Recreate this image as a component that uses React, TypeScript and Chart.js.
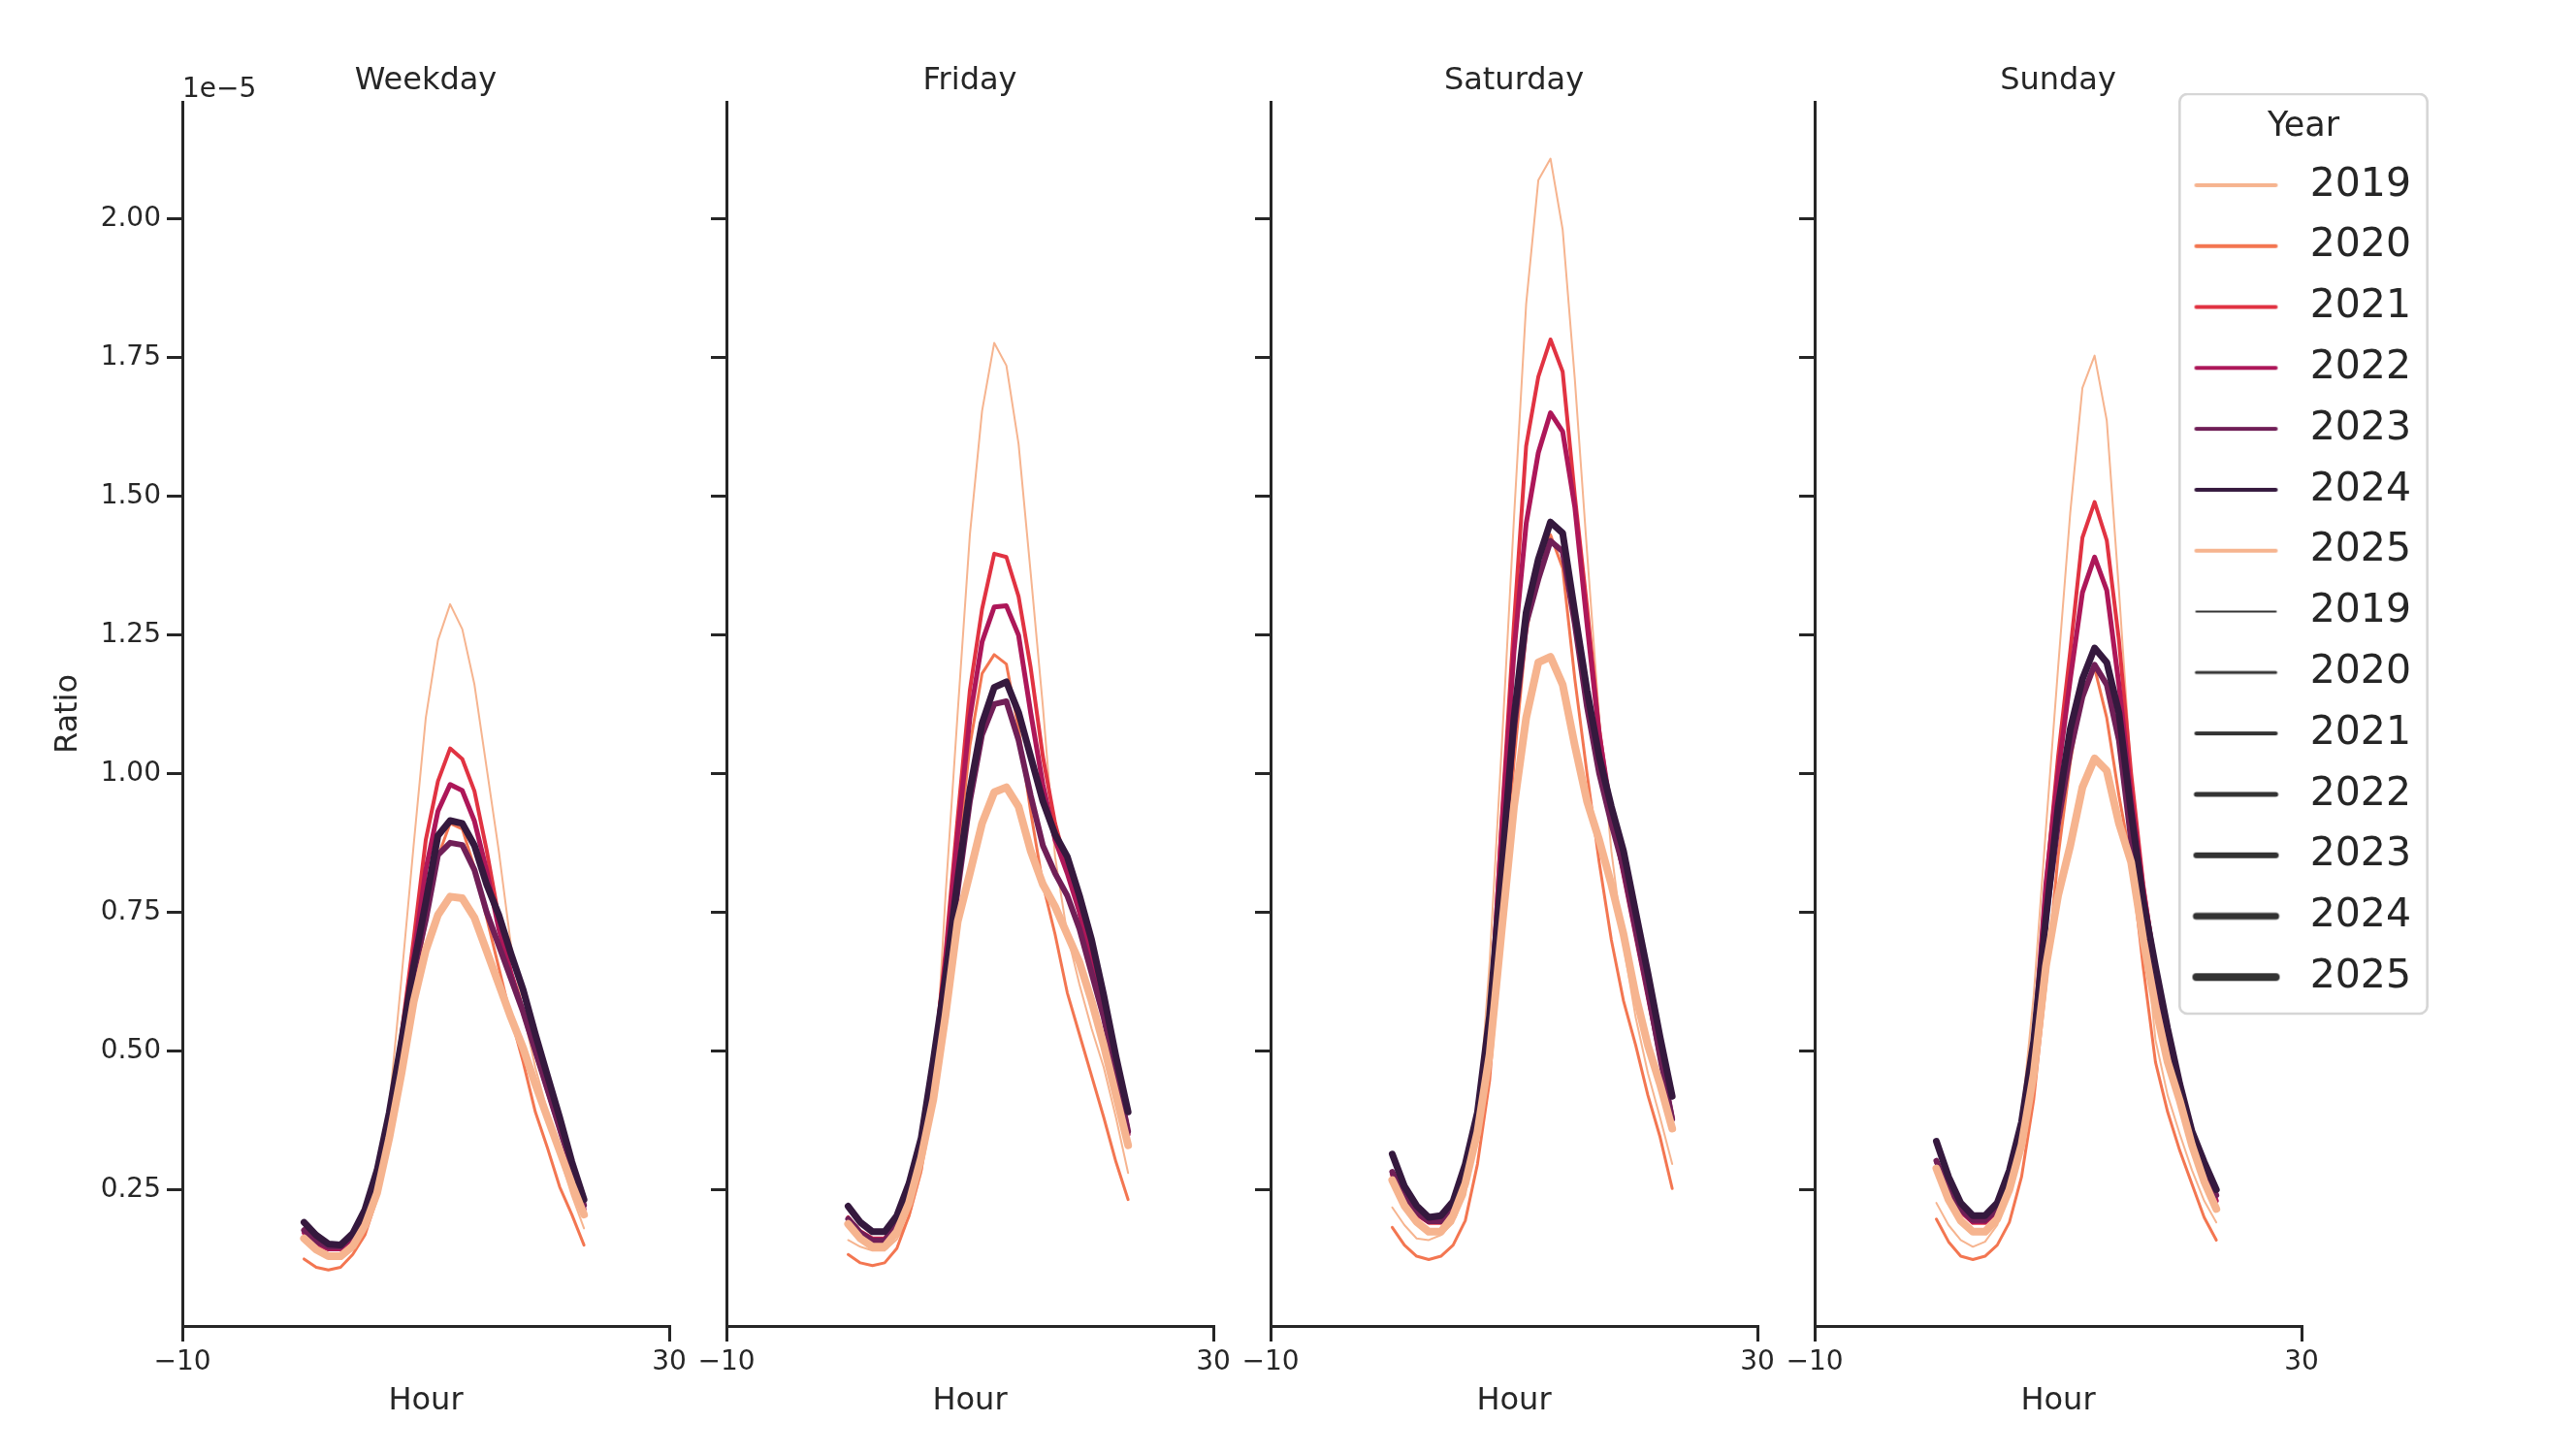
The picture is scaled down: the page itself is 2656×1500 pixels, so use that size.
import React, { useEffect, useRef } from "react";
import { Chart, registerables } from "chart.js";

Chart.register(...registerables);

const FONT = "'DejaVu Sans', 'Liberation Sans', sans-serif";
const INK = "#262626";

// ---------------- data (values in units of 1e-5) ----------------
const HOURS = [0, 1, 2, 3, 4, 5, 6, 7, 8, 9, 10, 11, 12, 13, 14, 15, 16, 17, 18, 19, 20, 21, 22, 23];
const YEARS = ["2019", "2020", "2021", "2022", "2023", "2024", "2025"];
const PANELS = ["Weekday", "Friday", "Saturday", "Sunday"];
const Y_TICKS = [0.25, 0.5, 0.75, 1.0, 1.25, 1.5, 1.75, 2.0];
const X_TICKS = [-10, 30];
const HUE_COLORS = ["#f6b48f", "#f37651", "#e13342", "#ad1759", "#701f57", "#35193e", "#f6b48f"];
const SIZE_WIDTHS = [2, 3, 4, 5, 6, 7, 8];

const weekday2019 = [0.160, 0.140, 0.130, 0.130, 0.150, 0.190, 0.270, 0.400, 0.630, 0.870, 1.100, 1.240, 1.305, 1.260, 1.160, 1.010, 0.860, 0.690, 0.570, 0.470, 0.390, 0.310, 0.240, 0.180];
const weekday2020 = [0.125, 0.110, 0.105, 0.110, 0.133, 0.168, 0.235, 0.345, 0.480, 0.610, 0.730, 0.850, 0.910, 0.900, 0.830, 0.740, 0.650, 0.560, 0.480, 0.390, 0.325, 0.255, 0.205, 0.150];
const weekday2021 = [0.175, 0.155, 0.145, 0.145, 0.165, 0.205, 0.280, 0.390, 0.530, 0.700, 0.880, 0.986, 1.045, 1.026, 0.968, 0.862, 0.740, 0.640, 0.570, 0.500, 0.430, 0.360, 0.290, 0.220];
const weekday2022 = [0.172, 0.152, 0.143, 0.143, 0.163, 0.203, 0.278, 0.385, 0.520, 0.670, 0.826, 0.932, 0.980, 0.969, 0.914, 0.825, 0.720, 0.640, 0.570, 0.500, 0.430, 0.360, 0.290, 0.215];
const weekday2023 = [0.177, 0.157, 0.147, 0.147, 0.168, 0.210, 0.283, 0.385, 0.510, 0.640, 0.736, 0.853, 0.875, 0.871, 0.826, 0.750, 0.690, 0.630, 0.570, 0.500, 0.430, 0.360, 0.290, 0.222];
const weekday2024 = [0.191, 0.168, 0.152, 0.150, 0.171, 0.214, 0.285, 0.389, 0.517, 0.652, 0.768, 0.888, 0.915, 0.910, 0.870, 0.800, 0.745, 0.675, 0.610, 0.530, 0.455, 0.380, 0.300, 0.232];
const weekday2025 = [0.162, 0.142, 0.130, 0.130, 0.148, 0.185, 0.244, 0.343, 0.459, 0.588, 0.681, 0.745, 0.778, 0.775, 0.740, 0.680, 0.620, 0.560, 0.505, 0.440, 0.380, 0.320, 0.260, 0.205];

const friday2019 = [0.159, 0.147, 0.140, 0.140, 0.160, 0.200, 0.280, 0.400, 0.780, 1.110, 1.430, 1.653, 1.776, 1.735, 1.594, 1.360, 1.120, 0.850, 0.710, 0.620, 0.540, 0.470, 0.380, 0.280];
const friday2020 = [0.133, 0.118, 0.113, 0.118, 0.144, 0.203, 0.285, 0.430, 0.620, 0.850, 1.050, 1.180, 1.214, 1.197, 1.080, 0.930, 0.800, 0.710, 0.605, 0.530, 0.455, 0.380, 0.300, 0.232];
const friday2021 = [0.200, 0.175, 0.162, 0.162, 0.190, 0.245, 0.330, 0.470, 0.680, 0.920, 1.150, 1.296, 1.396, 1.390, 1.319, 1.190, 1.030, 0.910, 0.830, 0.750, 0.670, 0.580, 0.470, 0.360];
const friday2022 = [0.198, 0.173, 0.160, 0.160, 0.188, 0.243, 0.328, 0.465, 0.660, 0.890, 1.100, 1.237, 1.300, 1.302, 1.249, 1.109, 0.980, 0.880, 0.820, 0.750, 0.660, 0.570, 0.460, 0.350];
const friday2023 = [0.197, 0.172, 0.158, 0.158, 0.187, 0.243, 0.330, 0.460, 0.620, 0.790, 0.950, 1.070, 1.125, 1.130, 1.060, 0.960, 0.870, 0.820, 0.780, 0.720, 0.640, 0.560, 0.460, 0.355];
const friday2024 = [0.220, 0.191, 0.174, 0.174, 0.203, 0.261, 0.343, 0.483, 0.634, 0.809, 0.970, 1.090, 1.155, 1.165, 1.110, 1.030, 0.950, 0.890, 0.850, 0.780, 0.700, 0.600, 0.490, 0.390];
const friday2025 = [0.188, 0.162, 0.147, 0.147, 0.174, 0.226, 0.308, 0.413, 0.564, 0.733, 0.820, 0.910, 0.966, 0.975, 0.940, 0.860, 0.800, 0.760, 0.710, 0.660, 0.590, 0.510, 0.420, 0.330];

const saturday2019 = [0.218, 0.186, 0.162, 0.159, 0.168, 0.190, 0.240, 0.360, 0.660, 1.050, 1.460, 1.846, 2.069, 2.108, 1.980, 1.710, 1.400, 1.100, 0.860, 0.690, 0.560, 0.460, 0.380, 0.296];
const saturday2020 = [0.182, 0.150, 0.130, 0.124, 0.130, 0.150, 0.194, 0.296, 0.447, 0.720, 1.020, 1.250, 1.380, 1.430, 1.370, 1.170, 1.000, 0.840, 0.700, 0.590, 0.510, 0.420, 0.345, 0.252];
const saturday2021 = [0.275, 0.235, 0.205, 0.190, 0.190, 0.215, 0.280, 0.380, 0.550, 0.920, 1.270, 1.590, 1.715, 1.782, 1.724, 1.500, 1.300, 1.080, 0.920, 0.820, 0.710, 0.600, 0.490, 0.380];
const saturday2022 = [0.278, 0.237, 0.207, 0.192, 0.192, 0.217, 0.283, 0.380, 0.545, 0.900, 1.220, 1.450, 1.578, 1.650, 1.616, 1.480, 1.270, 1.070, 0.930, 0.820, 0.710, 0.600, 0.490, 0.380];
const saturday2023 = [0.282, 0.240, 0.210, 0.193, 0.193, 0.220, 0.285, 0.380, 0.550, 0.830, 1.080, 1.270, 1.350, 1.419, 1.400, 1.270, 1.120, 1.000, 0.910, 0.830, 0.720, 0.610, 0.490, 0.377];
const saturday2024 = [0.314, 0.256, 0.221, 0.200, 0.203, 0.229, 0.296, 0.389, 0.564, 0.830, 1.100, 1.290, 1.386, 1.453, 1.433, 1.290, 1.150, 1.030, 0.940, 0.860, 0.750, 0.640, 0.525, 0.418];
const saturday2025 = [0.267, 0.221, 0.192, 0.174, 0.174, 0.203, 0.261, 0.354, 0.494, 0.720, 0.940, 1.100, 1.200, 1.210, 1.160, 1.050, 0.950, 0.880, 0.800, 0.710, 0.600, 0.510, 0.440, 0.360];

const sunday2019 = [0.226, 0.186, 0.159, 0.147, 0.156, 0.186, 0.250, 0.380, 0.600, 0.900, 1.190, 1.470, 1.695, 1.753, 1.636, 1.330, 1.000, 0.740, 0.520, 0.420, 0.350, 0.285, 0.230, 0.191];
const sunday2020 = [0.197, 0.156, 0.130, 0.124, 0.130, 0.150, 0.191, 0.273, 0.413, 0.620, 0.850, 1.020, 1.150, 1.190, 1.100, 0.960, 0.840, 0.650, 0.480, 0.390, 0.320, 0.260, 0.200, 0.159];
const sunday2021 = [0.300, 0.250, 0.210, 0.190, 0.190, 0.210, 0.270, 0.360, 0.510, 0.800, 1.030, 1.220, 1.425, 1.489, 1.420, 1.240, 1.000, 0.800, 0.650, 0.530, 0.430, 0.350, 0.290, 0.230];
const sunday2022 = [0.300, 0.250, 0.212, 0.192, 0.192, 0.212, 0.272, 0.362, 0.512, 0.800, 1.000, 1.170, 1.326, 1.390, 1.330, 1.160, 0.960, 0.790, 0.650, 0.530, 0.430, 0.350, 0.290, 0.230];
const sunday2023 = [0.302, 0.250, 0.215, 0.195, 0.195, 0.215, 0.275, 0.365, 0.510, 0.740, 0.910, 1.040, 1.138, 1.196, 1.160, 1.060, 0.880, 0.750, 0.630, 0.530, 0.430, 0.350, 0.290, 0.240];
const sunday2024 = [0.337, 0.273, 0.226, 0.203, 0.203, 0.226, 0.285, 0.372, 0.518, 0.739, 0.940, 1.080, 1.170, 1.226, 1.200, 1.109, 0.930, 0.770, 0.652, 0.540, 0.440, 0.355, 0.300, 0.250];
const sunday2025 = [0.288, 0.232, 0.194, 0.174, 0.174, 0.197, 0.250, 0.331, 0.459, 0.652, 0.780, 0.870, 0.975, 1.027, 1.005, 0.910, 0.840, 0.700, 0.580, 0.480, 0.410, 0.330, 0.265, 0.215];

const PANEL_SERIES = [
  [weekday2019, weekday2020, weekday2021, weekday2022, weekday2023, weekday2024, weekday2025],
  [friday2019, friday2020, friday2021, friday2022, friday2023, friday2024, friday2025],
  [saturday2019, saturday2020, saturday2021, saturday2022, saturday2023, saturday2024, saturday2025],
  [sunday2019, sunday2020, sunday2021, sunday2022, sunday2023, sunday2024, sunday2025],
];

// ---------------- layout ----------------
const PANEL_LEFT = [0, 561, 1122, 1683];
const PANEL_W = 738;
const Y_AXIS_W = 188;
const PLOT_W = 502;
const Y_MIN = 0.0042;
const Y_MAX = 2.2103;

const offsetTextPlugin = {
  id: "offsetText",
  afterDraw(chart: any) {
    const { ctx, chartArea } = chart;
    ctx.save();
    ctx.font = `28px ${FONT}`;
    ctx.fillStyle = INK;
    ctx.textAlign = "left";
    ctx.textBaseline = "alphabetic";
    ctx.fillText("1e\u22125", chartArea.left, 100);
    ctx.restore();
  },
};

function axisCommon() {
  return {
    grid: {
      display: true,
      drawOnChartArea: false,
      drawTicks: true,
      tickLength: 16,
      tickWidth: 3,
      tickColor: INK,
      color: INK,
      lineWidth: 3,
    },
    border: { display: true, color: INK, width: 3 },
  };
}

function Panel({ idx }: { idx: number }) {
  const ref = useRef<HTMLCanvasElement | null>(null);
  useEffect(() => {
    if (!ref.current) return;
    const series = PANEL_SERIES[idx];
    const first = idx === 0;
    const chart = new Chart(ref.current, {
      type: "line",
      data: {
        datasets: YEARS.map((yr, i) => ({
          label: yr,
          data: HOURS.map((h, k) => ({ x: h, y: series[i][k] })),
          borderColor: HUE_COLORS[i],
          backgroundColor: HUE_COLORS[i],
          borderWidth: SIZE_WIDTHS[i],
          pointRadius: 0,
          pointHoverRadius: 0,
          tension: 0,
          fill: false,
          borderJoinStyle: "round",
          borderCapStyle: "round",
          order: YEARS.length - i,
        })),
      },
      options: {
        responsive: false,
        animation: false,
        devicePixelRatio: 1,
        events: [],
        layout: { padding: { left: 0, right: PANEL_W - Y_AXIS_W - PLOT_W, top: 0, bottom: 33 } },
        plugins: {
          legend: { display: false },
          tooltip: { enabled: false },
          title: {
            display: true,
            text: PANELS[idx],
            fullSize: false,
            color: INK,
            font: { family: FONT, size: 32, weight: "normal", lineHeight: 1.2 },
            padding: { top: 64.8, bottom: 1.8 },
          },
        },
        scales: {
          x: {
            type: "linear",
            min: -10,
            max: 30,
            afterBuildTicks: (s: any) => {
              s.ticks = X_TICKS.map((v) => ({ value: v }));
            },
            afterFit: (s: any) => {
              s.height = 100;
            },
            ticks: {
              color: INK,
              font: { family: FONT, size: 28, lineHeight: 1.2 },
              padding: 5.2,
              maxRotation: 0,
              autoSkip: false,
              callback: (v: any) => (Number(v) < 0 ? "\u2212" + Math.abs(Number(v)) : String(v)),
            },
            title: {
              display: true,
              text: "Hour",
              color: INK,
              font: { family: FONT, size: 32, lineHeight: 1.2 },
              padding: { top: 0, bottom: 3.3 },
            },
            ...axisCommon(),
          },
          y: {
            type: "linear",
            min: Y_MIN,
            max: Y_MAX,
            afterBuildTicks: (s: any) => {
              s.ticks = Y_TICKS.map((v) => ({ value: v }));
            },
            afterFit: (s: any) => {
              s.width = Y_AXIS_W;
            },
            ticks: {
              display: first,
              color: INK,
              font: { family: FONT, size: 28, lineHeight: 1.2 },
              padding: 6,
              autoSkip: false,
              callback: (v: any) => Number(v).toFixed(2),
            },
            title: {
              display: first,
              text: "Ratio",
              color: INK,
              font: { family: FONT, size: 32, lineHeight: 1.2 },
              padding: { top: 51.8, bottom: 0 },
            },
            ...axisCommon(),
          },
        },
      } as any,
      plugins: first ? [offsetTextPlugin] : [],
    });
    return () => chart.destroy();
  }, [idx]);
  return (
    <canvas
      ref={ref}
      width={PANEL_W}
      height={1500}
      style={{ position: "absolute", left: PANEL_LEFT[idx], top: 0, width: PANEL_W, height: 1500 }}
    />
  );
}

// ---------------- legend ----------------
const LEGEND_LEFT = 2246;
const LEGEND_TOP = 96;
const LEGEND_W = 258;
const LEGEND_H = 2200; // tall canvas so the legend box may use >950px (clipped by wrapper)
const FRAME = { x: 1.3, y: 1.0, w: 255.4, h: 948, r: 8 };

function makeHandle(color: string, width: number) {
  const c = document.createElement("canvas");
  c.width = 120;
  c.height = 16;
  const ctx = c.getContext("2d")!;
  ctx.strokeStyle = color;
  ctx.lineWidth = width;
  ctx.lineCap = "round";
  ctx.beginPath();
  ctx.moveTo(10, 8);
  ctx.lineTo(92, 8);
  ctx.stroke();
  return c;
}

const legendFrame = {
  id: "legendFrame",
  beforeDraw(chart: any) {
    const ctx = chart.ctx;
    ctx.save();
    ctx.beginPath();
    ctx.roundRect(FRAME.x, FRAME.y, FRAME.w, FRAME.h, FRAME.r);
    ctx.fillStyle = "rgba(255,255,255,0.8)";
    ctx.fill();
    ctx.lineWidth = 2.67;
    ctx.strokeStyle = "rgba(204,204,204,0.8)";
    ctx.stroke();
    ctx.restore();
  },
};

function Legend() {
  const ref = useRef<HTMLCanvasElement | null>(null);
  useEffect(() => {
    if (!ref.current) return;
    const entries = [
      ...YEARS.map((y, i) => ({ text: y, img: makeHandle(HUE_COLORS[i], 4) })),
      ...YEARS.map((y, i) => ({ text: y, img: makeHandle("#333333", SIZE_WIDTHS[i]) })),
    ];
    const chart = new Chart(ref.current, {
      type: "line",
      data: { datasets: [] },
      options: {
        responsive: false,
        animation: false,
        devicePixelRatio: 1,
        events: [],
        layout: { padding: 0 },
        scales: { x: { display: false }, y: { display: false } },
        plugins: {
          tooltip: { enabled: false },
          title: {
            display: true,
            text: "Year",
            fullSize: true,
            color: INK,
            font: { family: FONT, size: 35, weight: "normal", lineHeight: 0.9 },
            padding: { top: 18.7, bottom: 2.4 },
          },
          legend: {
            display: true,
            position: "top",
            align: "start",
            fullSize: true,
            labels: {
              usePointStyle: true,
              pointStyleWidth: 93.4,
              padding: 21.8,
              color: INK,
              font: { family: FONT, size: 41, lineHeight: 1.2 },
              generateLabels: () =>
                entries.map((e, k) => ({
                  text: e.text,
                  pointStyle: e.img,
                  fillStyle: "rgba(0,0,0,0)",
                  strokeStyle: "rgba(0,0,0,0)",
                  lineWidth: 0,
                  hidden: false,
                  fontColor: INK,
                  datasetIndex: k,
                })),
            },
          },
        },
      } as any,
      plugins: [legendFrame],
    });
    return () => chart.destroy();
  }, []);
  return (
    <canvas
      ref={ref}
      width={LEGEND_W}
      height={LEGEND_H}
      style={{ position: "absolute", left: LEGEND_LEFT, top: LEGEND_TOP, width: LEGEND_W, height: LEGEND_H }}
    />
  );
}

export default function App() {
  return (
    <div
      style={{
        position: "absolute",
        left: 0,
        top: 0,
        width: 2656,
        height: 1500,
        background: "#ffffff",
        overflow: "hidden",
      }}
    >
      {PANELS.map((p, i) => (
        <Panel key={p} idx={i} />
      ))}
      <Legend />
    </div>
  );
}
